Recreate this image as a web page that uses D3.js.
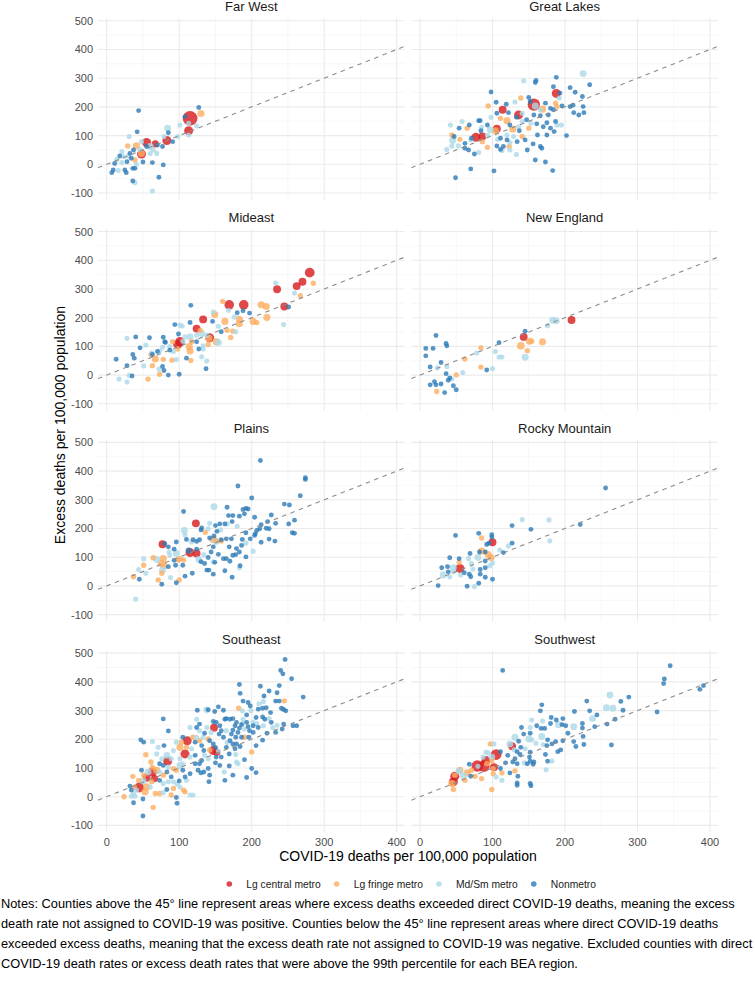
<!DOCTYPE html>
<html>
<head>
<meta charset="utf-8">
<script src="https://cdn.jsdelivr.net/npm/d3@7"></script>
<style>
  body { margin: 0; background: #fff; }
  svg text { font-family: "Liberation Sans", Arial, Helvetica, sans-serif; }
</style>
</head>
<body>
<div id="chart"></div>
<script>
// metro categories, in legend order
const categories = ["Lg central metro", "Lg fringe metro", "Md/Sm metro", "Nonmetro"];
const categoryCodes = ["C", "F", "M", "N"];
const categoryColors = ["#d7191c", "#fdae61", "#abd9e9", "#2c7bb6"];

const regionNames = ["Far West", "Great Lakes", "Mideast", "New England",
  "Plains", "Rocky Mountain", "Southeast", "Southwest"];

const xTicks = [0, 100, 200, 300, 400];
const yTicks = [-100, 0, 100, 200, 300, 400, 500];

// [covid deaths per 100k, excess deaths per 100k, metro code, population (thousands)]
const farWest = [
  [127,198,"N",8],[130,177,"F",600],[115,160,"C",9600],[108,166,"N",8],[113,143,"M",25],[113,117,"C",1800],
  [113,102,"M",25],[101,137,"M",25],[98,97,"M",25],[124,134,"M",25],[44,187,"N",8],[42,113,"N",8],
  [31,97,"M",25],[84,126,"M",500],[85,110,"N",8],[79,97,"M",25],[83,83,"C",1800],[91,79,"N",8],
  [77,62,"N",8],[70,67,"N",8],[67,71,"C",600],[55,76,"C",1800],[48,79,"M",25],[41,64,"F",600],
  [29,64,"F",55],[48,38,"F",600],[48,36,"C",1800],[37,50,"N",8],[46,52,"M",25],[64,50,"M",25],
  [69,38,"M",25],[60,38,"M",25],[21,44,"M",25],[23,27,"M",25],[32,38,"N",8],[30,29,"M",25],
  [39,15,"F",55],[34,21,"N",8],[18,29,"N",8],[21,6,"M",25],[28,9,"N",8],[50,8,"N",8],
  [14,17,"M",25],[11,3,"N",8],[9,-20,"N",8],[7,-29,"N",8],[16,-22,"M",25],[25,-20,"N",8],
  [27,-29,"N",8],[36,-14,"N",8],[39,-14,"N",8],[63,6,"N",8],[78,-2,"N",8],[72,-45,"N",8],
  [36,-58,"N",8],[39,-64,"M",25],[63,-93,"M",25],[41,0,"M",25],[55,62,"N",8],[60,62,"M",500]
];

const greatLakes = [
  [225,316,"M",500],[234,277,"N",8],[188,303,"N",8],[184,270,"N",8],[160,292,"N",8],[159,285,"N",8],
  [143,291,"M",25],[98,252,"N",8],[207,267,"N",8],[214,251,"N",8],[224,236,"N",8],[188,247,"C",1800],
  [193,248,"N",8],[192,231,"M",25],[150,233,"N",8],[157,208,"C",5500],[159,203,"M",500],[152,219,"N",8],
  [139,231,"F",55],[131,217,"M",25],[119,209,"N",8],[105,216,"N",8],[94,203,"F",55],[114,190,"C",1000],
  [106,178,"N",8],[169,192,"F",600],[184,190,"N",8],[189,201,"F",55],[196,203,"N",8],[207,201,"N",8],
  [211,206,"N",8],[225,201,"N",8],[226,180,"N",8],[219,172,"N",8],[212,180,"N",8],[180,195,"N",8],
  [177,172,"N",8],[157,172,"N",8],[166,169,"N",8],[136,172,"C",1800],[141,178,"M",25],[133,164,"N",8],
  [122,180,"N",8],[120,152,"F",600],[111,160,"F",55],[98,164,"M",25],[81,152,"N",8],[83,152,"N",8],
  [58,149,"M",25],[68,137,"N",8],[42,137,"M",25],[54,126,"N",8],[65,126,"F",55],[85,129,"M",25],
  [93,137,"N",8],[106,124,"C",1000],[104,117,"F",600],[97,120,"M",500],[84,117,"N",8],[136,131,"M",25],
  [128,122,"F",600],[124,137,"N",8],[150,126,"F",55],[153,143,"M",25],[161,141,"N",8],[170,131,"N",8],
  [175,145,"N",8],[187,149,"N",8],[189,137,"M",25],[195,137,"M",25],[185,114,"N",8],[202,100,"N",8],
  [162,102,"N",8],[145,85,"N",8],[137,117,"N",8],[134,79,"N",8],[111,91,"N",8],[107,87,"M",25],
  [120,85,"N",8],[124,76,"M",25],[123,62,"F",55],[115,62,"N",8],[93,59,"F",55],[75,36,"N",8],
  [81,41,"M",25],[67,50,"N",8],[62,73,"N",8],[47,97,"N",8],[45,83,"M",500],[44,102,"F",55],
  [55,87,"F",55],[70,85,"M",25],[71,91,"N",8],[77,94,"C",1800],[86,97,"C",1000],[86,79,"F",55],
  [37,52,"M",25],[44,64,"M",25],[53,64,"M",25],[62,56,"N",8],[106,64,"N",8],[111,52,"N",8],
  [113,48,"M",25],[124,50,"M",25],[133,34,"M",25],[148,50,"N",8],[156,71,"N",8],[166,62,"N",8],
  [168,56,"N",8],[159,15,"N",8],[173,8,"N",8],[183,-22,"N",8],[102,-23,"N",8],[70,-16,"N",8],
  [49,-47,"N",8],[93,101,"M",25],[120,102,"M",25],[129,97,"M",25],[141,97,"F",55],[175,102,"N",8],
  [180,126,"N",8],[141,149,"M",25],[147,155,"N",8],[166,190,"M",25],[173,213,"N",8],[187,213,"F",55]
];

const mideast = [
  [280,357,"C",2500],[285,320,"F",55],[270,325,"C",1000],[262,310,"C",1000],[233,321,"M",25],[235,299,"C",1000],
  [259,286,"M",25],[267,277,"F",55],[245,239,"C",1000],[251,237,"N",8],[244,176,"M",25],[169,245,"C",2300],
  [189,245,"C",2300],[160,257,"F",55],[168,226,"M",25],[180,217,"N",8],[188,224,"N",8],[197,216,"N",8],
  [213,245,"F",600],[220,239,"F",600],[221,201,"F",600],[202,187,"F",600],[207,183,"F",55],[183,179,"F",600],
  [183,194,"F",600],[176,202,"M",25],[163,187,"F",600],[154,170,"M",25],[158,151,"N",8],[166,156,"F",55],
  [174,153,"F",55],[178,151,"M",25],[171,131,"F",55],[149,211,"F",600],[147,220,"M",25],[133,194,"C",1000],
  [146,187,"N",8],[124,162,"C",1000],[129,156,"F",55],[115,183,"N",8],[116,243,"N",8],[94,176,"N",8],
  [101,174,"M",25],[104,171,"M",25],[99,143,"N",8],[115,133,"M",500],[124,139,"M",25],[131,145,"M",500],
  [138,139,"M",25],[142,130,"C",1800],[141,128,"F",600],[151,116,"F",600],[154,114,"M",500],[140,107,"F",55],
  [133,102,"M",25],[124,116,"N",8],[117,116,"F",55],[114,99,"F",600],[115,84,"F",600],[101,116,"C",2300],
  [98,107,"C",1800],[105,118,"M",25],[91,116,"F",55],[98,91,"F",55],[87,87,"N",8],[87,99,"M",25],
  [80,116,"N",8],[78,132,"N",8],[81,114,"N",8],[77,97,"M",25],[73,84,"M",25],[70,82,"N",8],
  [63,72,"N",8],[59,130,"N",8],[54,105,"M",25],[46,95,"N",8],[40,133,"N",8],[28,128,"M",25],
  [36,72,"N",8],[38,59,"N",8],[13,55,"N",8],[28,33,"N",8],[62,78,"M",25],[61,72,"F",55],
  [67,56,"F",600],[78,55,"F",55],[63,33,"F",55],[51,32,"M",25],[77,30,"N",8],[79,16,"N",8],
  [72,21,"M",25],[73,3,"F",55],[85,0,"N",8],[90,52,"F",55],[96,54,"M",25],[110,59,"N",8],
  [116,51,"F",55],[131,64,"M",25],[138,49,"M",25],[137,22,"N",8],[100,3,"N",8],[57,-14,"F",55],
  [31,-1,"M",25],[35,-3,"N",8],[17,-14,"M",25],[28,-24,"M",25],[108,133,"M",25],[92,82,"M",25],
  [127,91,"N",8],[133,91,"M",25]
];

const newEngland = [
  [209,192,"C",1000],[183,191,"M",500],[188,189,"M",500],[176,172,"M",25],[145,153,"N",8],[143,133,"C",1000],
  [151,118,"F",600],[154,118,"F",55],[169,116,"F",600],[139,102,"F",900],[148,85,"F",55],[145,62,"M",500],
  [109,113,"N",8],[104,82,"M",25],[109,63,"M",25],[113,63,"M",25],[84,95,"F",55],[78,77,"M",25],
  [62,56,"F",55],[84,28,"F",55],[92,18,"N",8],[100,23,"M",25],[59,9,"M",25],[50,1,"F",55],
  [37,30,"M",25],[29,44,"N",8],[24,25,"M",25],[14,28,"N",8],[22,138,"N",8],[36,110,"N",8],
  [37,102,"N",8],[18,93,"N",8],[8,93,"N",8],[8,67,"N",8],[36,5,"N",8],[41,-10,"N",8],
  [44,-13,"M",25],[39,-18,"N",8],[20,-23,"N",8],[22,-34,"N",8],[29,-31,"N",8],[14,-34,"N",8],
  [46,-37,"N",8],[50,-51,"N",8],[23,-57,"F",55],[34,-61,"N",8]
];

const plains = [
  [212,437,"N",8],[274,377,"N",8],[274,371,"N",8],[267,314,"N",8],[245,285,"N",8],[252,282,"N",8],
  [181,348,"N",8],[200,306,"N",8],[166,274,"N",8],[148,276,"M",500],[192,270,"N",8],[188,266,"N",8],
  [195,268,"N",8],[168,245,"N",8],[174,245,"N",8],[183,243,"N",8],[190,251,"N",8],[204,239,"N",8],
  [227,247,"N",8],[259,229,"N",8],[251,216,"N",8],[233,218,"N",8],[222,224,"N",8],[213,213,"N",8],
  [220,201,"N",8],[224,199,"N",8],[211,199,"N",8],[207,193,"N",8],[205,182,"N",8],[204,176,"N",8],
  [256,185,"N",8],[259,183,"N",8],[232,156,"N",8],[224,163,"N",8],[213,152,"N",8],[192,185,"N",8],
  [198,164,"N",8],[187,162,"N",8],[192,149,"M",25],[186,141,"N",8],[192,101,"N",8],[202,121,"M",25],
  [183,118,"N",8],[184,70,"N",8],[183,63,"M",25],[173,30,"N",8],[163,53,"N",8],[154,110,"N",8],
  [161,95,"N",8],[165,95,"N",8],[170,86,"N",8],[174,107,"N",8],[179,130,"N",8],[178,109,"N",8],
  [169,136,"N",8],[172,164,"N",8],[165,164,"N",8],[163,216,"N",8],[166,216,"M",25],[173,224,"N",8],
  [180,208,"M",25],[156,216,"N",8],[150,210,"N",8],[157,195,"M",25],[152,190,"N",8],[148,174,"N",8],
  [158,161,"N",8],[151,155,"M",500],[142,167,"N",8],[147,136,"N",8],[144,118,"N",8],[140,99,"N",8],
  [134,109,"M",25],[147,84,"M",25],[149,82,"N",8],[147,41,"N",8],[138,55,"N",8],[141,55,"N",8],
  [135,78,"N",8],[130,84,"N",8],[127,92,"M",500],[124,113,"C",1000],[115,116,"C",1800],[124,128,"N",8],
  [113,123,"N",200],[117,153,"M",25],[110,162,"N",8],[119,161,"N",8],[124,155,"N",8],[128,161,"N",8],
  [123,218,"C",1000],[130,195,"N",8],[131,202,"N",8],[140,199,"M",25],[142,218,"M",25],[136,187,"F",55],
  [147,162,"F",600],[151,157,"F",55],[158,156,"F",55],[106,259,"N",8],[107,193,"M",500],[108,178,"M",25],
  [96,153,"N",8],[93,128,"N",8],[96,113,"M",500],[101,95,"F",55],[106,90,"F",55],[99,90,"F",55],
  [105,72,"N",8],[95,72,"N",8],[93,89,"N",8],[87,107,"M",25],[108,34,"N",8],[118,44,"N",8],
  [77,145,"C",1000],[80,147,"N",8],[85,136,"N",8],[86,118,"M",25],[78,95,"F",600],[75,78,"F",600],
  [79,69,"F",600],[77,55,"M",500],[76,44,"F",55],[85,67,"N",8],[64,98,"F",55],[51,95,"M",25],
  [51,72,"F",55],[44,57,"M",25],[54,44,"M",25],[37,32,"F",55],[45,23,"N",8],[71,21,"F",55],
  [76,6,"N",8],[88,29,"M",25],[96,11,"N",8],[100,21,"F",55],[69,92,"M",500],[40,-46,"M",25]
];

const rockyMountain = [
  [256,341,"N",8],[221,214,"N",8],[178,230,"M",25],[179,157,"M",25],[141,231,"M",25],[127,210,"N",8],
  [153,197,"N",8],[127,149,"N",8],[122,139,"M",25],[110,125,"M",25],[115,116,"N",8],[99,178,"N",8],
  [99,170,"N",8],[100,152,"C",1000],[95,149,"N",8],[92,144,"N",8],[81,183,"N",8],[85,167,"F",55],
  [49,176,"N",8],[69,113,"N",8],[82,118,"N",8],[85,121,"F",600],[90,118,"N",8],[94,109,"F",600],
  [98,99,"F",600],[90,87,"N",8],[80,99,"M",500],[67,95,"M",25],[54,95,"N",8],[41,98,"N",8],
  [54,82,"F",55],[71,78,"M",25],[100,80,"M",25],[96,70,"M",25],[90,63,"N",8],[83,57,"N",8],
  [83,41,"N",8],[73,59,"M",25],[55,61,"C",1800],[46,63,"M",500],[38,67,"N",8],[30,63,"N",8],
  [39,49,"N",8],[32,38,"M",500],[41,32,"M",25],[46,49,"M",25],[61,46,"N",8],[68,41,"N",8],
  [70,32,"N",8],[90,30,"N",8],[100,23,"N",8],[81,9,"N",8],[75,-2,"M",25],[65,-1,"N",8],
  [25,1,"N",8],[56,38,"M",25]
];

const southeast = [
  [246,478,"N",8],[240,440,"N",8],[243,428,"N",8],[255,411,"N",8],[271,347,"N",8],[183,391,"N",8],
  [184,360,"N",8],[212,385,"N",8],[224,368,"N",8],[238,387,"N",8],[235,362,"N",8],[217,351,"N",8],
  [245,334,"F",55],[233,333,"N",8],[238,333,"N",8],[188,333,"N",8],[195,328,"N",8],[198,316,"N",8],
  [193,285,"N",8],[182,308,"F",55],[187,299,"M",25],[210,324,"M",25],[216,331,"M",25],[209,305,"N",8],
  [215,308,"N",8],[220,310,"N",8],[226,293,"N",8],[241,308,"N",8],[247,299,"N",8],[244,304,"N",8],
  [206,276,"N",8],[215,278,"N",8],[224,272,"M",25],[218,270,"N",8],[257,247,"N",8],[262,247,"N",8],
  [244,253,"N",8],[235,249,"M",25],[242,236,"N",8],[233,224,"N",8],[221,221,"N",8],[215,197,"N",8],
  [206,178,"N",8],[202,247,"N",8],[195,244,"N",8],[207,255,"M",25],[193,259,"N",8],[186,251,"N",8],
  [179,259,"N",8],[174,272,"N",8],[165,272,"N",8],[170,270,"N",8],[163,270,"N",8],[154,313,"N",8],
  [161,301,"N",8],[147,262,"N",8],[138,299,"M",25],[140,303,"N",8],[124,270,"M",25],[128,253,"N",8],
  [138,241,"M",25],[148,240,"C",1000],[156,247,"N",8],[158,230,"N",8],[165,230,"M",25],[174,232,"N",8],
  [181,224,"N",8],[183,239,"N",8],[190,236,"M",25],[178,207,"N",8],[190,207,"F",55],[196,207,"N",8],
  [186,207,"N",8],[174,184,"N",8],[179,184,"N",8],[165,172,"N",8],[169,149,"N",8],[178,147,"M",25],
  [190,129,"N",8],[179,121,"M",25],[181,115,"M",25],[200,156,"F",55],[200,98,"N",8],[206,84,"N",8],
  [193,67,"N",8],[174,75,"N",8],[169,107,"N",8],[162,86,"M",25],[156,109,"N",8],[150,118,"N",8],
  [151,138,"N",8],[158,138,"N",8],[163,57,"N",8],[154,159,"M",25],[150,172,"N",8],[147,184,"N",8],
  [142,195,"N",8],[140,201,"F",55],[147,161,"C",1800],[152,155,"C",600],[142,163,"F",55],[134,161,"N",8],
  [135,144,"M",25],[131,126,"N",8],[128,115,"N",8],[122,115,"N",8],[126,92,"N",8],[140,98,"N",8],
  [142,75,"N",8],[134,86,"N",8],[141,52,"N",8],[130,83,"N",8],[115,80,"N",8],[108,69,"N",8],
  [110,57,"M",25],[105,92,"N",8],[101,132,"M",25],[105,115,"M",25],[101,109,"M",500],[108,149,"C",1800],
  [111,195,"C",1800],[105,207,"N",8],[103,190,"F",55],[101,172,"F",600],[96,190,"M",25],[110,172,"F",55],
  [117,167,"M",25],[122,190,"N",8],[128,195,"F",55],[131,178,"N",8],[124,207,"M",25],[115,241,"M",25],
  [124,241,"N",8],[128,230,"M",25],[85,229,"N",8],[78,271,"N",8],[79,178,"N",8],[71,172,"M",25],
  [92,161,"M",25],[83,144,"M",500],[89,132,"M",25],[76,132,"M",25],[69,149,"M",25],[63,192,"M",25],
  [54,146,"F",55],[47,198,"N",8],[51,190,"N",8],[61,121,"F",55],[63,103,"F",55],[73,115,"N",8],
  [78,109,"N",8],[84,124,"C",1800],[85,103,"M",25],[92,98,"F",55],[96,92,"F",55],[83,86,"N",8],
  [89,69,"N",8],[78,75,"F",55],[73,86,"M",25],[69,92,"F",600],[63,86,"C",1800],[57,86,"M",500],
  [48,92,"N",8],[51,75,"F",55],[55,66,"C",1000],[50,55,"M",500],[62,52,"F",55],[66,63,"C",600],
  [73,57,"N",8],[78,46,"M",25],[85,52,"M",25],[92,52,"M",25],[97,44,"M",25],[101,34,"M",25],
  [92,29,"F",55],[100,55,"N",8],[83,25,"N",8],[60,34,"M",25],[55,34,"F",600],[67,11,"F",55],
  [73,11,"F",55],[78,14,"M",25],[89,6,"F",55],[106,23,"F",55],[108,17,"F",55],[115,6,"M",25],
  [119,6,"M",25],[45,32,"C",2500],[53,17,"F",600],[44,57,"F",55],[36,71,"F",55],[32,37,"N",8],
  [38,34,"F",55],[41,23,"M",25],[34,23,"N",8],[37,11,"M",25],[34,2,"M",25],[39,2,"M",25],
  [24,0,"F",55],[50,-8,"N",8],[37,-21,"N",8],[64,-37,"F",55],[96,-3,"N",8],[97,-23,"N",8],
  [50,-67,"N",8],[125,301,"N",8],[137,305,"M",25],[149,297,"N",8],[151,259,"N",8],[155,218,"N",8],
  [161,207,"N",8],[170,195,"N",8],[172,218,"N",8],[177,247,"N",8],[197,230,"N",8],[202,224,"N",8],
  [209,241,"N",8],[216,247,"M",25],[227,259,"N",8],[229,241,"M",25],[202,259,"M",25],[188,270,"M",25],
  [199,299,"M",25],[187,255,"M",25],[166,189,"M",25],[177,167,"N",8],[184,175,"N",8],[144,224,"M",25],
  [135,221,"N",8],[133,207,"M",25],[119,207,"F",55],[115,138,"M",25],[122,144,"N",8],[140,132,"M",25]
];

const southwest = [
  [345,456,"N",8],[337,410,"N",8],[336,394,"N",8],[391,387,"N",8],[386,374,"N",8],[327,295,"N",8],
  [114,440,"N",8],[288,347,"N",8],[277,332,"N",8],[262,354,"M",500],[257,310,"M",500],[266,308,"M",500],
  [280,301,"N",8],[269,270,"N",8],[258,253,"N",8],[264,180,"N",8],[230,333,"N",8],[234,299,"N",8],
  [244,285,"N",8],[238,272,"M",500],[241,244,"N",8],[224,255,"N",8],[224,239,"N",8],[212,244,"M",500],
  [213,297,"N",8],[204,221,"N",8],[225,210,"N",8],[212,192,"N",8],[226,182,"N",8],[215,175,"N",8],
  [197,272,"N",8],[188,267,"N",8],[181,276,"N",8],[180,255,"N",8],[191,251,"M",500],[196,251,"N",8],
  [201,247,"N",8],[168,320,"N",8],[166,299,"N",8],[154,267,"M",25],[169,264,"M",25],[172,238,"N",8],
  [167,238,"N",8],[161,247,"N",8],[152,241,"M",25],[140,241,"N",8],[152,221,"N",8],[143,218,"N",8],
  [150,201,"M",500],[154,198,"M",25],[160,186,"M",25],[168,210,"M",500],[176,198,"N",8],[175,178,"N",8],
  [170,182,"M",25],[187,192,"N",8],[194,163,"N",8],[190,157,"N",8],[197,195,"N",8],[182,184,"N",8],
  [173,147,"N",8],[176,124,"N",8],[182,124,"M",25],[174,94,"M",25],[131,207,"M",500],[136,193,"N",8],
  [139,172,"N",8],[134,157,"N",8],[138,147,"N",8],[145,167,"M",25],[152,155,"N",8],[151,138,"N",8],
  [152,124,"N",8],[148,115,"N",8],[156,113,"N",8],[157,121,"N",8],[144,118,"M",25],[131,132,"N",8],
  [134,115,"N",8],[128,121,"N",8],[121,144,"N",8],[118,118,"N",8],[124,184,"M",500],[127,176,"C",1000],
  [130,163,"M",25],[111,157,"N",8],[105,147,"C",3500],[94,153,"M",25],[99,138,"M",500],[91,126,"C",1800],
  [88,106,"C",4500],[79,107,"C",4500],[92,115,"F",55],[99,124,"F",55],[102,103,"C",1000],[97,184,"F",55],
  [102,184,"M",25],[101,98,"F",55],[111,98,"N",8],[101,80,"F",55],[105,69,"M",25],[113,57,"M",25],
  [113,83,"F",55],[124,83,"N",8],[131,90,"F",55],[135,71,"N",8],[134,48,"N",8],[134,40,"N",8],
  [152,46,"N",8],[153,38,"N",8],[99,25,"F",55],[85,63,"F",55],[76,71,"F",55],[70,71,"N",8],
  [68,113,"N",8],[71,92,"F",55],[65,83,"F",600],[60,71,"M",500],[62,57,"F",55],[55,92,"F",600],
  [54,89,"M",500],[48,71,"C",1800],[46,52,"C",1800],[44,46,"F",600],[46,25,"F",55],[48,75,"F",55],
  [91,155,"M",25],[87,138,"M",25],[80,106,"M",25]
];

const regionData = [farWest, greatLakes, mideast, newEngland, plains, rockyMountain, southeast, southwest];

const notesLines = [
  "Notes: Counties above the 45\u00b0 line represent areas where excess deaths exceeded direct COVID-19 deaths, meaning the excess",
  "death rate not assigned to COVID-19 was positive. Counties below the 45\u00b0 line represent areas where direct COVID-19 deaths",
  "exceeded excess deaths, meaning that the excess death rate not assigned to COVID-19 was negative. Excluded counties with direct",
  "COVID-19 death rates or excess death rates that were above the 99th percentile for each BEA region."
];

// Layout
const width = 755;
const height = 985;
const panelW = 306.7;
const panelH = 182;
const colX = [98, 411.3];
const rowY = [17.9, 228.7, 439.5, 650.3];

const x = d3.scaleLinear().domain([-12, 411]).range([0, panelW]);
const y = d3.scaleLinear().domain([-124, 510]).range([panelH, 0]);
const r = d3.scaleSqrt().domain([0, 10000]).range([2.3, 7.5]);
const color = d3.scaleOrdinal().domain(categoryCodes).range(categoryColors);

const xMinor = d3.pairs(xTicks).map(([a, b]) => (a + b) / 2);
const yMinor = d3.pairs(yTicks).map(([a, b]) => (a + b) / 2);

const svg = d3
  .select("#chart")
  .append("svg")
  .attr("width", width)
  .attr("height", height);

regionNames.forEach((name, i) => {
  const col = i % 2;
  const row = Math.floor(i / 2);
  const g = svg
    .append("g")
    .attr("transform", `translate(${colX[col]},${rowY[row]})`);

  // minor grid
  g.selectAll(".vminor").data(xMinor).enter().append("line")
    .attr("x1", (d) => x(d)).attr("x2", (d) => x(d))
    .attr("y1", 0).attr("y2", panelH)
    .attr("stroke", "#F2F2F2").attr("stroke-width", 0.6);
  g.selectAll(".hminor").data(yMinor).enter().append("line")
    .attr("x1", 0).attr("x2", panelW)
    .attr("y1", (d) => y(d)).attr("y2", (d) => y(d))
    .attr("stroke", "#F2F2F2").attr("stroke-width", 0.6);

  // major grid
  g.selectAll(".vmajor").data(xTicks).enter().append("line")
    .attr("x1", (d) => x(d)).attr("x2", (d) => x(d))
    .attr("y1", 0).attr("y2", panelH)
    .attr("stroke", "#EBEBEB").attr("stroke-width", 1.1);
  g.selectAll(".hmajor").data(yTicks).enter().append("line")
    .attr("x1", 0).attr("x2", panelW)
    .attr("y1", (d) => y(d)).attr("y2", (d) => y(d))
    .attr("stroke", "#EBEBEB").attr("stroke-width", 1.1);

  // points, biggest first so small ones stay visible
  const pts = regionData[i].slice().sort((a, b) => b[3] - a[3]);
  g.selectAll("circle").data(pts).enter().append("circle")
    .attr("cx", (d) => x(d[0]))
    .attr("cy", (d) => y(d[1]))
    .attr("r", (d) => r(d[3]))
    .attr("fill", (d) => color(d[2]))
    .attr("fill-opacity", 0.8);

  // 45 degree line
  const dom = x.domain();
  g.append("line")
    .attr("x1", x(dom[0])).attr("y1", y(dom[0]))
    .attr("x2", x(dom[1])).attr("y2", y(dom[1]))
    .attr("stroke", "#8C8C8C")
    .attr("stroke-width", 1.1)
    .attr("stroke-dasharray", "4.5,4.5");

  // strip title
  g.append("text")
    .attr("x", panelW / 2)
    .attr("y", -11)
    .attr("text-anchor", "middle")
    .attr("dominant-baseline", "central")
    .style("font-size", "13px")
    .attr("fill", "#1A1A1A")
    .text(name);

  if (col === 0) {
    g.selectAll(".ylab").data(yTicks).enter().append("text")
      .attr("x", -5)
      .attr("y", (d) => y(d))
      .attr("text-anchor", "end")
      .attr("dominant-baseline", "central")
      .style("font-size", "11px")
      .attr("fill", "#4D4D4D")
      .text((d) => d);
  }
  if (row === 3) {
    g.selectAll(".xlab").data(xTicks).enter().append("text")
      .attr("x", (d) => x(d))
      .attr("y", panelH + 10)
      .attr("text-anchor", "middle")
      .attr("dominant-baseline", "central")
      .style("font-size", "11px")
      .attr("fill", "#4D4D4D")
      .text((d) => d);
  }
});

// axis titles
svg.append("text")
  .attr("x", (colX[0] + colX[1] + panelW) / 2)
  .attr("y", 856)
  .attr("text-anchor", "middle")
  .attr("dominant-baseline", "central")
  .style("font-size", "14px")
  .text("COVID-19 deaths per 100,000 population");

svg.append("text")
  .attr("transform", `translate(60,${(rowY[0] + rowY[3] + panelH) / 2}) rotate(-90)`)
  .attr("text-anchor", "middle")
  .attr("dominant-baseline", "central")
  .style("font-size", "14px")
  .text("Excess deaths per 100,000 population");

// legend
const legend = svg.append("g").attr("transform", "translate(229.3,884)");
let lx = 0;
categories.forEach((c, i) => {
  const item = legend.append("g").attr("transform", `translate(${lx},0)`);
  item.append("circle").attr("r", 2.8)
    .attr("fill", categoryColors[i]).attr("fill-opacity", 0.8);
  const t = item.append("text")
    .attr("x", 17)
    .attr("dominant-baseline", "central")
    .style("font-size", "10.3px")
    .attr("fill", "#1A1A1A")
    .text(c);
  lx += 17 + t.node().getComputedTextLength() + 16;
});

// notes, sized so the longest line fills the page width
const notes = svg.append("g");
const probe = notes.append("text").style("font-size", "12px").text(notesLines[2]);
const noteSize = 12 * 752 / probe.node().getComputedTextLength();
probe.remove();
notes.selectAll("text").data(notesLines).enter().append("text")
  .attr("x", 1)
  .attr("y", (d, i) => 908 + i * 20)
  .style("font-size", noteSize + "px")
  .attr("fill", "#000")
  .text((d) => d);
</script>
</body>
</html>
